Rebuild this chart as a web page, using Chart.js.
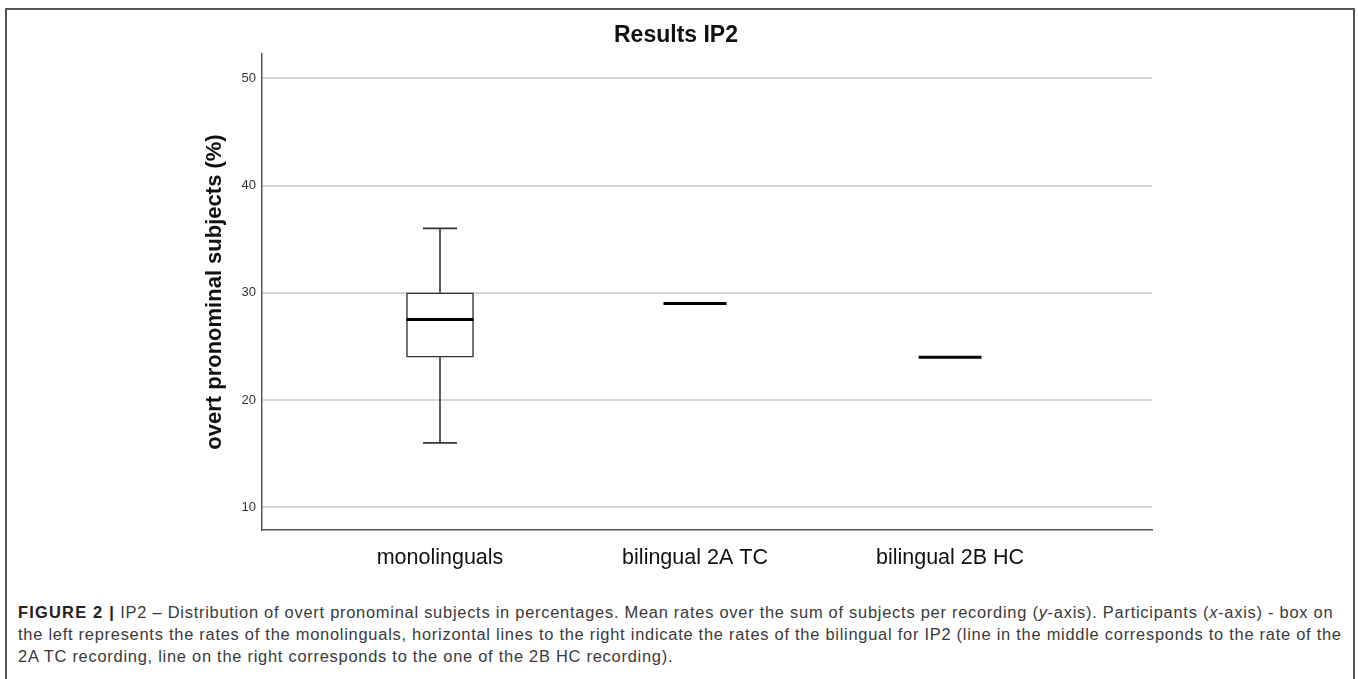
<!DOCTYPE html>
<html>
<head>
<meta charset="utf-8">
<title>Results IP2</title>
<script src="https://cdn.jsdelivr.net/npm/chart.js@4.4.0/dist/chart.umd.min.js"></script>
<style>
  html, body { margin: 0; padding: 0; background: #fff; }
  body { width: 1358px; height: 679px; position: relative; overflow: hidden; font-family: "Liberation Sans", Arial, sans-serif; }
  .frame { position: absolute; left: 5px; top: 8px; width: 1346px; height: 720px; border: 2px solid #555; border-bottom: none; }
  .chart-wrapper { position: absolute; left: 0; top: 0; width: 1358px; height: 590px; }
  .caption { position: absolute; left: 18px; top: 601px; font-size: 16.45px; line-height: 22px; letter-spacing: 0.74px; color: #3a3a3a; white-space: nowrap; }
  .caption b { color: #222; letter-spacing: 1.2px; }
</style>
</head>
<body>
<div class="frame"></div>
<div class="chart-wrapper">
  <canvas id="boxChart"></canvas>
</div>
<div class="caption">
  <div><b>FIGURE 2 |</b> IP2 – Distribution of overt pronominal subjects in percentages. Mean rates over the sum of subjects per recording (<i>y</i>-axis). Participants (<i>x</i>-axis) - box on</div>
  <div>the left represents the rates of the monolinguals, horizontal lines to the right indicate the rates of the bilingual for IP2 (line in the middle corresponds to the rate of the</div>
  <div>2A TC recording, line on the right corresponds to the one of the 2B HC recording).</div>
</div>
<script>
const categories = ['monolinguals', 'bilingual 2A TC', 'bilingual 2B HC'];
// monolinguals: lower whisker, Q1, median, Q3, upper whisker
const monoBox = [16, 24, 27.5, 30, 36];
// bilingual: one rate per recording (2A TC, 2B HC)
const bilingualRates = [29, 24];
const yTicks = [10, 20, 30, 40, 50];

const ink = '#333';
Chart.defaults.font.family = '"Liberation Sans", Arial, sans-serif';

const ctx = document.getElementById('boxChart').getContext('2d');
new Chart(ctx, {
  type: 'scatter',
  data: {
    datasets: [
      {
        // median
        data: [{ x: 0, y: monoBox[2] }],
        pointStyle: 'line',
        pointRadius: 33.5,
        pointBorderColor: '#000',
        pointBorderWidth: 3
      },
      {
        type: 'bar',
        data: [{ x: 0, y: [monoBox[1], monoBox[3]] }],
        backgroundColor: '#fff',
        borderColor: ink,
        borderWidth: 1.5,
        borderSkipped: false,
        barThickness: 67
      },
      {
        data: [{ x: 0, y: monoBox[0] }, { x: 0, y: monoBox[1] }],
        showLine: true,
        pointRadius: 0,
        borderColor: ink,
        borderWidth: 1.6
      },
      {
        data: [{ x: 0, y: monoBox[3] }, { x: 0, y: monoBox[4] }],
        showLine: true,
        pointRadius: 0,
        borderColor: ink,
        borderWidth: 1.6
      },
      {
        // whisker caps
        data: [{ x: 0, y: monoBox[0] }, { x: 0, y: monoBox[4] }],
        pointStyle: 'line',
        pointRadius: 17,
        pointBorderColor: ink,
        pointBorderWidth: 1.8
      },
      {
        data: bilingualRates.map((v, i) => ({ x: i + 1, y: v })),
        pointStyle: 'line',
        pointRadius: 31.5,
        pointBorderColor: '#000',
        pointBorderWidth: 3
      }
    ]
  },
  options: {
    responsive: true,
    maintainAspectRatio: false,
    animation: false,
    events: [],
    layout: { padding: { left: 200, right: 206, top: 0, bottom: 0 } },
    plugins: {
      legend: { display: false },
      tooltip: { enabled: false },
      title: {
        display: true,
        text: 'Results IP2',
        color: '#111',
        font: { size: 23, weight: 'bold' },
        padding: { top: 22, bottom: 4.4 }
      }
    },
    scales: {
      x: {
        type: 'linear',
        offset: false,
        min: -0.698,
        max: 2.792,
        afterBuildTicks: scale => { scale.ticks = categories.map((c, i) => ({ value: i })); },
        afterFit: scale => { scale.height = 60; },
        grid: { display: false, offset: false },
        border: { display: true, color: '#555', width: 1.5 },
        ticks: {
          padding: 7,
          maxRotation: 0,
          color: '#111',
          font: { size: 21.5 },
          callback: value => categories[value]
        }
      },
      y: {
        min: 7.88,
        max: 52.27,
        afterBuildTicks: scale => { scale.ticks = yTicks.map(v => ({ value: v })); },
        afterFit: scale => { scale.width = 62; },
        grid: { color: '#d6d6d6', lineWidth: 2, drawTicks: false },
        border: { display: true, color: '#555', width: 1.5 },
        ticks: { padding: 6, color: '#333', font: { size: 13 } },
        title: {
          display: true,
          text: 'overt pronominal subjects (%)',
          color: '#111',
          font: { size: 22, weight: 'bold' },
          padding: { top: 2, bottom: 0 }
        }
      }
    }
  }
});
</script>
</body>
</html>
